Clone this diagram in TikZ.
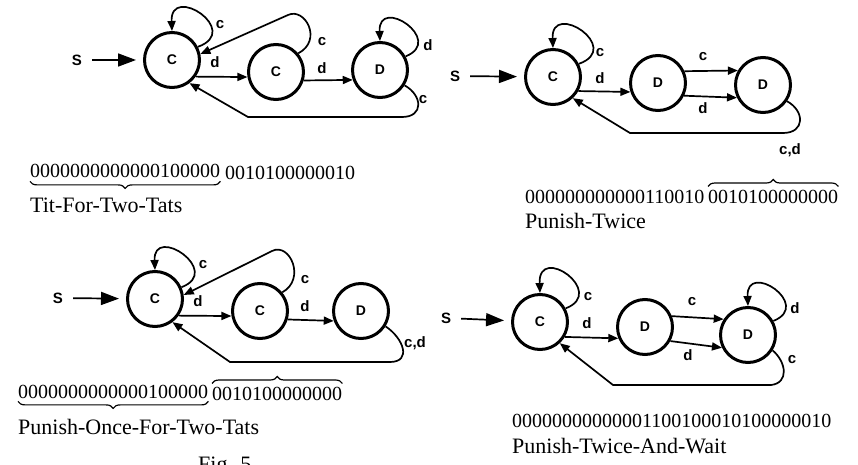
\documentclass[tikz,border=0pt]{standalone}
\usepackage{fontspec}
\setmainfont{Liberation Serif}
\setsansfont{Liberation Sans}
\usetikzlibrary{arrows.meta,decorations.pathreplacing}
\begin{document}
\begin{tikzpicture}[x=1pt,y=-1pt,
  st/.style={circle,draw,line width=3pt,minimum size=55pt,inner sep=0pt,font=\fontsize{14}{14}\selectfont\sffamily\bfseries},
  edge/.style={line width=1.7pt,-{Triangle[length=10pt,width=8pt]}},
  startarr/.style={line width=1.7pt,-{Triangle[length=18pt,width=13pt]},shorten >=7pt,shorten <=10pt},
  lab/.style={font=\fontsize{15}{15}\selectfont\sffamily\bfseries,inner sep=0pt},
  sname/.style={font=\fontsize{15}{15}\selectfont\sffamily\bfseries,inner sep=0pt},
  bits/.style={font=\fontsize{20}{20}\selectfont,inner sep=0pt,anchor=base west},
  title/.style={font=\fontsize{22}{22}\selectfont,inner sep=0pt,anchor=base west},
  ubrace/.style={decorate,decoration={brace,mirror,amplitude=7pt},line width=1.2pt},
  obrace/.style={decorate,decoration={brace,amplitude=7pt},line width=1.2pt},
]
\useasboundingbox (0,0) rectangle (858,465);

% ---------- Panel 1: Tit-For-Two-Tats ----------
\node[sname] (s1) at (77,60) {S};
\node[st] (a1) at (172,60) {C};
\node[st] (a2) at (276,72) {C};
\node[st] (a3) at (380,70) {D};
\draw[startarr] (s1) -- (a1);
\draw[edge] (a1.27) .. controls +(45,-16) and +(-2,-48) .. (a1.90);
\draw[edge] (a2.40) .. controls +(25,-13) and (305,7) .. (288,15) -- (a1.12);
\draw[edge] (a1.-35) -- (a2.190);
\draw[edge] (a2.-17) -- (a3.200);
\draw[edge] (a3.28) .. controls +(40,-16) and +(-2,-46) .. (a3.90);
\draw[edge] (a3.-32) .. controls +(18,10) and +(22,0) .. (402,117) -- (248,117) -- (a1.-53);
\node[lab] (l11) at (220,25) {c};
\node[lab] (l12) at (322,42) {c};
\node[lab] (l13) at (215,62) {d};
\node[lab] (l14) at (322,68) {d};
\node[lab] (l15) at (428,45) {d};
\node[lab] (l16) at (423,100) {c};
\node[bits] (p1a) at (30,178) {0000000000000100000};
\node[bits] (p1b) at (225,179) {0010100000010};
\draw[ubrace] ([yshift=-3pt]p1a.south west) -- ([yshift=-3pt]p1a.south east);
\node[title] (p1t) at (30,212) {Tit-For-Two-Tats};

% ---------- Panel 2: Punish-Twice ----------
\node[sname] (s2) at (455,76) {S};
\node[st] (b1) at (553,77) {C};
\node[st] (b2) at (658,83) {D};
\node[st] (b3) at (763,85) {D};
\draw[startarr] (s2) -- (b1);
\draw[edge] (b1.27) .. controls +(45,-16) and +(-2,-48) .. (b1.90);
\draw[edge] (b1.-29) -- (b2.198);
\draw[edge] (b2.24) -- (b3.150);
\draw[edge] (b2.-26) -- (b3.206);
\draw[edge] (b3.-34) .. controls +(18,10) and +(22,0) .. (783,133) -- (630,133) -- (b1.-47);
\node[lab] (l21) at (600,53) {c};
\node[lab] (l22) at (600,78) {d};
\node[lab] (l23) at (703,57) {c};
\node[lab] (l24) at (703,108) {d};
\node[lab] (l25) at (790,150) {c,d};
\node[bits] (p2a) at (525,203) {000000000000110010};
\node[bits] (p2b) at (708,203) {0010100000000};
\draw[obrace] ([yshift=3pt]p2b.north west) -- ([yshift=3pt]p2b.north east);
\node[title] (p2t) at (525,228) {Punish-Twice};

% ---------- Panel 3: Punish-Once-For-Two-Tats ----------
\node[sname] (s3) at (58,298) {S};
\node[st] (c1) at (155,299) {C};
\node[st] (c2) at (260,311) {C};
\node[st] (c3) at (361,311) {D};
\draw[startarr] (s3) -- (c1);
\draw[edge] (c1.24) .. controls +(42,-16) and +(-2,-46) .. (c1.90);
\draw[edge] (c2.40) .. controls +(24,-13) and (290,242) .. (272,251) -- (c1.8);
\draw[edge] (c1.-35) -- (c2.190);
\draw[edge] (c2.-17) -- (c3.200);
\draw[edge] (c3.-32) .. controls +(18,12) and +(22,0) .. (390,362) -- (230,362) -- (c1.-53);
\node[lab] (l31) at (203,265) {c};
\node[lab] (l32) at (305,280) {c};
\node[lab] (l33) at (198,301) {d};
\node[lab] (l34) at (305,306) {d};
\node[lab] (l35) at (415,343) {c,d};
\node[bits] (p3a) at (18,398) {0000000000000100000};
\node[bits] (p3b) at (212,400) {0010100000000};
\draw[ubrace] ([yshift=-3pt]p3a.south west) -- ([yshift=-3pt]p3a.south east);
\draw[obrace] ([yshift=3pt]p3b.north west) -- ([yshift=3pt]p3b.north east);
\node[title] (p3t) at (18,434) {Punish-Once-For-Two-Tats};
\node[title,anchor=north west] (fig) at (198,457) {Fig. 5.};

% ---------- Panel 4: Punish-Twice-And-Wait ----------
\node[sname] (s4) at (446,318) {S};
\node[st] (d1) at (540,322) {C};
\node[st] (d2) at (645,327) {D};
\node[st] (d3) at (748,335) {D};
\draw[startarr] (s4) -- (d1);
\draw[edge] (d1.28) .. controls +(42,-16) and +(-2,-50) .. (d1.90);
\draw[edge] (d1.-31) -- (d2.203);
\draw[edge] (d2.22) -- (d3.147);
\draw[edge] (d2.-29) -- (d3.206);
\draw[edge] (d3.29) .. controls +(40,-16) and +(-2,-46) .. (d3.90);
\draw[edge] (d3.-32) .. controls +(14,12) and +(18,-2) .. (771,385) -- (613,385) -- (d1.-47);
\node[lab] (l41) at (588,297) {c};
\node[lab] (l42) at (587,323) {d};
\node[lab] (l43) at (692,302) {c};
\node[lab] (l44) at (688,355) {d};
\node[lab] (l45) at (795,308) {d};
\node[lab] (l46) at (792,360) {c};
\node[bits] (p4a) at (512,427) {00000000000001100100010100000010};
\node[title] (p4t) at (512,453) {Punish-Twice-And-Wait};
\end{tikzpicture}
\end{document}
